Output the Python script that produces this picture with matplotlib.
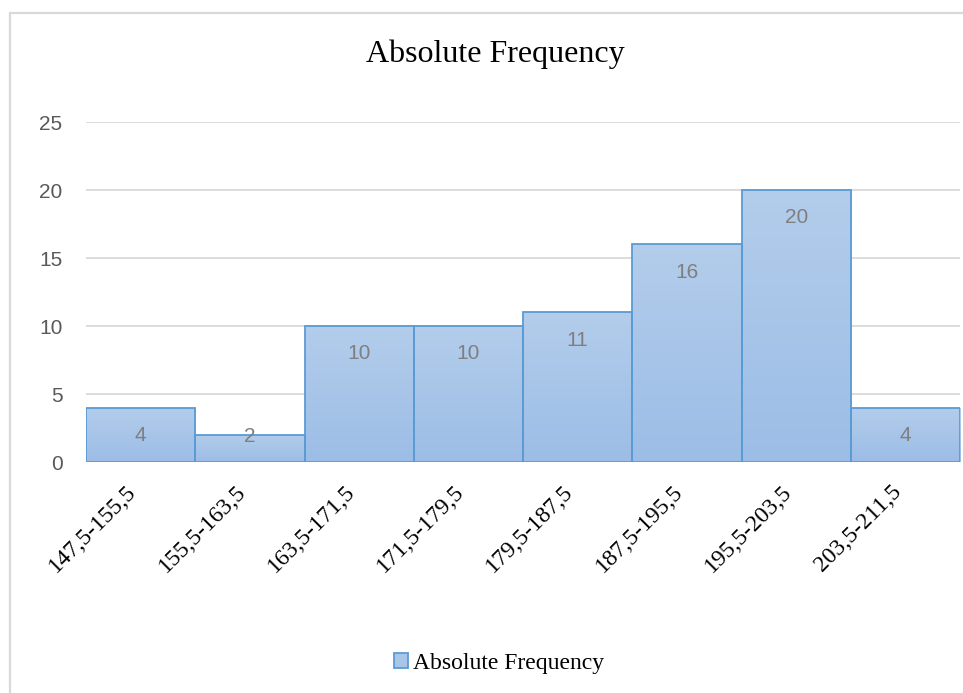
import matplotlib.pyplot as plt
import matplotlib.transforms as mtransforms
import numpy as np
from matplotlib.colors import LinearSegmentedColormap
from matplotlib.patches import Rectangle

# classes and counts
classes = ['147,5-155,5', '155,5-163,5', '163,5-171,5', '171,5-179,5',
           '179,5-187,5', '187,5-195,5', '195,5-203,5', '203,5-211,5']
counts = [4, 2, 10, 10, 11, 16, 20, 4]
yticks = [0, 5, 10, 15, 20, 25]

serif = ['Liberation Serif', 'DejaVu Serif']
sans = ['Liberation Sans', 'DejaVu Sans']

fig = plt.figure(figsize=(9.63, 6.93), dpi=100)

# chart frame (light grey border, open on the right/bottom like the screenshot)
fig.patches.append(Rectangle((10 / 963, -0.05), 1.05, 1 - 13 / 693 + 0.05,
                             transform=fig.transFigure, fill=False,
                             edgecolor='#d9d9d9', linewidth=1.6))

ax = fig.add_axes([86 / 963, 1 - 462 / 693, (960 - 86) / 963, (462 - 122) / 693])

x = np.arange(len(counts))
bars = ax.bar(x, counts, width=1.0, color='#a9c5e8', edgecolor='#5b9bd5',
              linewidth=1.3, zorder=3, label='Absolute Frequency')

# vertical gradient inside each bar
cmap = LinearSegmentedColormap.from_list('g', ['#9cbde6', '#b3cdeb'])
grad = np.linspace(0, 1, 256).reshape(-1, 1)
for b in bars:
    bx, by = b.get_x(), b.get_y()
    w, h = b.get_width(), b.get_height()
    im = ax.imshow(grad, extent=[bx, bx + w, by, by + h], origin='lower',
                   cmap=cmap, aspect='auto', zorder=2.9)
    im.set_clip_path(b)
    b.set_facecolor('none')

for xi, v in zip(x, counts):
    ax.text(xi, max(v - 2.05, 1.85), str(v), ha='center', va='center',
            fontsize=15, color='#7f7f7f', family=sans, zorder=4)

ax.set_xlim(-0.5, len(counts) - 0.5)
ax.set_ylim(0, 25)
ax.set_yticks(yticks)
ax.set_yticklabels([str(t) for t in yticks], fontsize=15, color='#595959', family=sans)
ax.set_xticks(x)
ax.set_xticklabels(classes, rotation=45, ha='right', va='top', fontsize=17,
                   family=serif, color='black')
# nudge the rotated labels a little to the right
shift = mtransforms.ScaledTranslation(6 / 100, 1 / 100, fig.dpi_scale_trans)
for lbl in ax.get_xticklabels():
    lbl.set_transform(lbl.get_transform() + shift)
ax.tick_params(axis='both', length=0)
ax.tick_params(axis='x', pad=14)
ax.tick_params(axis='y', pad=17)
for s in ax.spines.values():
    s.set_visible(False)
ax.grid(axis='y', color='#d9d9d9', linewidth=1.3, zorder=0)
ax.set_axisbelow(True)

fig.text(495 / 963, 1 - 54 / 693, 'Absolute Frequency', ha='center', va='center',
         fontsize=23, family=serif, color='black')

leg = fig.legend(handles=[bars], labels=['Absolute Frequency'], loc='center',
                 bbox_to_anchor=(499 / 963, 1 - 663 / 693), frameon=False,
                 prop={'family': serif, 'size': 17}, handlelength=0.6,
                 handleheight=0.6, handletextpad=0.2)
for p in leg.get_patches():
    p.set_facecolor('#a9c5e8')

fig.savefig('out.png', dpi=100)
